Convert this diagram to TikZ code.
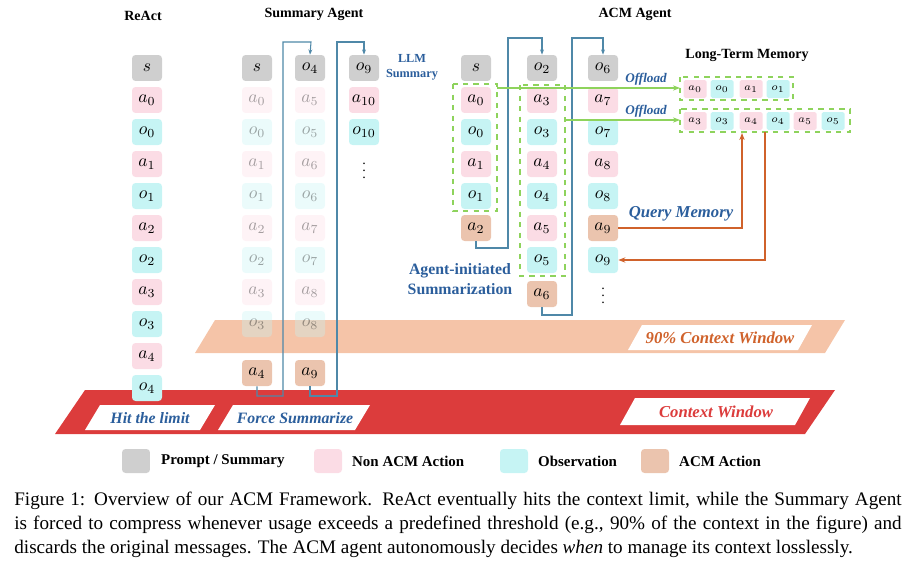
\documentclass[tikz,border=0pt]{standalone}
\usepackage{fontspec}
\setmainfont{Liberation Serif}
\usetikzlibrary{arrows.meta}
\definecolor{gr}{HTML}{CFCFCF}
\definecolor{pk}{HTML}{FBDCE5}
\definecolor{cy}{HTML}{C6F4F4}
\definecolor{br}{HTML}{EBC4AE}
\definecolor{bt}{HTML}{2B5E9C}
\definecolor{rb}{HTML}{DC3C3C}
\definecolor{pc}{HTML}{F5C4A8}
\definecolor{gn}{HTML}{8ED35C}
\definecolor{oc}{HTML}{D0622B}
\definecolor{cn}{HTML}{4F88A8}
\begin{document}
\begin{tikzpicture}[x=0.02cm,y=-0.02cm,
 bx/.style={fill=#1,rounded corners=2pt,minimum width=0.6cm,minimum height=0.52cm,inner sep=0pt,font=\fontsize{10}{10}\selectfont},
 fd/.style={bx=#1,fill opacity=0.35,text opacity=0.35},
 sm/.style={fill=#1,rounded corners=1pt,minimum width=0.46cm,minimum height=0.36cm,inner sep=0pt,font=\fontsize{6.5}{6.5}\selectfont},
 hd/.style={font=\bfseries\fontsize{8}{9}\selectfont},
 blt/.style={text=bt,font=\bfseries\itshape\fontsize{9}{10}\selectfont},
 cnl/.style={draw=cn,line width=0.6pt,-{Stealth[length=3pt]}},
 gd/.style={draw=gn,dashed,line width=0.8pt},
 gl/.style={draw=gn,line width=0.7pt,-{Stealth[length=4pt]}},
 ol/.style={draw=oc,line width=0.9pt,-{Stealth[length=4pt]}},
 vd/.style={inner sep=0pt,font=\fontsize{8}{8}\selectfont},
 lg/.style={font=\bfseries\fontsize{8.5}{9}\selectfont,anchor=west}]
\useasboundingbox (0,0) rectangle (915,578);
% bands
\fill[pc] (195,353) -- (215,320) -- (845,320) -- (825,353) -- cycle;
\fill[rb] (55,434) -- (85,390) -- (835,390) -- (805,434) -- cycle;
% headers
\node[hd] (h1) at (143,16) {ReAct};
\node[hd] (h2) at (314,14) {Summary Agent};
\node[hd] (h3) at (635,14) {ACM Agent};
\node[hd] (h4) at (747,55) {Long-Term Memory};
% ReAct
\node[bx=gr] (r0) at (147,68) {$s$};
\foreach \i/\c/\t in {1/pk/a_0,2/cy/o_0,3/pk/a_1,4/cy/o_1,5/pk/a_2,6/cy/o_2,7/pk/a_3,8/cy/o_3,9/pk/a_4,10/cy/o_4}
 \node[bx=\c] (r\i) at (147,68+32*\i) {$\t$};
% Summary agent
\node[bx=gr] (s0) at (257,68) {$s$};
\foreach \i/\c/\t in {1/pk/a_0,2/cy/o_0,3/pk/a_1,4/cy/o_1,5/pk/a_2,6/cy/o_2,7/pk/a_3,8/cy/o_3}
 \node[fd=\c] (s\i) at (257,68+32*\i) {$\t$};
\node[bx=br] (sa4) at (257,373) {$a_4$};
\node[bx=gr] (t0) at (310,68) {$o_4$};
\foreach \i/\c/\t in {1/pk/a_5,2/cy/o_5,3/pk/a_6,4/cy/o_6,5/pk/a_7,6/cy/o_7,7/pk/a_8,8/cy/o_8}
 \node[fd=\c] (t\i) at (310,68+32*\i) {$\t$};
\node[bx=br] (ta9) at (310,373) {$a_9$};
\node[bx=gr] (u0) at (364,68) {$o_9$};
\node[bx=pk] (u1) at (364,100) {$a_{10}$};
\node[bx=cy] (u2) at (364,132) {$o_{10}$};
\node[vd] (ud) at (364,166) {$\vdots$};
\node[text=bt,font=\bfseries\fontsize{7}{8.5}\selectfont,align=center] (llm) at (412,67) {LLM\\Summary};
\draw[cnl] (sa4.south) |- (283,396) |- (311,42) -- (t0.north);
\draw[cnl] (ta9.south) |- (337,396) |- (364,42) -- (u0.north);
% ACM
\node[bx=gr] (c0) at (476,68) {$s$};
\foreach \i/\c/\t in {1/pk/a_0,2/cy/o_0,3/pk/a_1,4/cy/o_1}
 \node[bx=\c] (c\i) at (476,68+32*\i) {$\t$};
\node[bx=br] (c5) at (476,228) {$a_2$};
\node[bx=gr] (d0) at (542,68) {$o_2$};
\foreach \i/\c/\t in {1/pk/a_3,2/cy/o_3,3/pk/a_4,4/cy/o_4,5/pk/a_5,6/cy/o_5}
 \node[bx=\c] (d\i) at (542,68+32*\i) {$\t$};
\node[bx=br] (d7) at (542,294) {$a_6$};
\node[bx=gr] (e0) at (603,68) {$o_6$};
\foreach \i/\c/\t in {1/pk/a_7,2/cy/o_7,3/pk/a_8,4/cy/o_8}
 \node[bx=\c] (e\i) at (603,68+32*\i) {$\t$};
\node[bx=br] (e5) at (603,228) {$a_9$};
\node[bx=cy] (e6) at (603,260) {$o_9$};
\node[vd] (ed) at (603,291) {$\vdots$};
\draw[gd] (453,84) rectangle (497,211);
\draw[gd] (520,85) rectangle (565,276);
\draw[cnl] (c5.south) |- (508,248) |- (542,38) -- (d0.north);
\draw[cnl] (d7.south) |- (572,315) |- (603,38) -- (e0.north);
\node[text=bt,font=\bfseries\fontsize{9}{11}\selectfont,align=center] (ais) at (460,279) {Agent-initiated\\Summarization};
% LTM
\draw[gd] (680,77) rectangle (793,100);
\draw[gd] (680,109) rectangle (850,132);
\foreach \x/\c/\t [count=\k] in {695/pk/a_0,722/cy/o_0,751/pk/a_1,778/cy/o_1}
 \node[sm=\c] (m\k) at (\x,89) {$\t$};
\foreach \x/\c/\t [count=\k] in {695/pk/a_3,722/cy/o_3,751/pk/a_4,778/cy/o_4,805/pk/a_5,833/cy/o_5}
 \node[sm=\c] (n\k) at (\x,121) {$\t$};
\coordinate (g1) at (497,88);
\coordinate (g2) at (565,120);
\draw[gl] (g1) -- (680,88);
\draw[gl] (g2) -- (680,120);
\node[blt,font=\bfseries\itshape\fontsize{7.5}{8}\selectfont] (of1) at (646,79) {Offload};
\node[blt,font=\bfseries\itshape\fontsize{7.5}{8}\selectfont] (of2) at (646,111) {Offload};
\draw[ol] (e5.east) -| (742,133);
\draw[ol] (765,132) |- (e6.east);
\node[blt,font=\bfseries\itshape\fontsize{9.5}{10}\selectfont] (qm) at (681,214) {Query Memory};
% band labels
\fill[white] (85,430) -- (100,405) -- (215,405) -- (200,430) -- cycle;
\fill[white] (218,430) -- (233,405) -- (370,405) -- (355,430) -- cycle;
\fill[white] (620,425) -- (635,398) -- (810,398) -- (795,425) -- cycle;
\fill[white] (628,350) -- (642,325) -- (812,325) -- (798,350) -- cycle;
\node[blt] (l1) at (150,418) {Hit the limit};
\node[blt] (l2) at (295,418) {Force Summarize};
\node[text=rb,font=\bfseries\itshape\fontsize{9.5}{10}\selectfont] (l3) at (716,412) {Context Window};
\node[text=oc,font=\bfseries\itshape\fontsize{9.5}{10}\selectfont] (l4) at (720,338) {90\% Context Window};
% legend
\node[bx=gr,minimum width=0.56cm,minimum height=0.48cm] (k1) at (136,461) {};
\node[lg] (k1t) at (155,461) {Prompt / Summary};
\node[bx=pk,minimum width=0.56cm,minimum height=0.48cm] (k2) at (328,461) {};
\node[lg] (k2t) at (346,461) {Non ACM Action};
\node[bx=cy,minimum width=0.56cm,minimum height=0.48cm] (k3) at (514,461) {};
\node[lg] (k3t) at (532,461) {Observation};
\node[bx=br,minimum width=0.56cm,minimum height=0.48cm] (k4) at (655,461) {};
\node[lg] (k4t) at (673,461) {ACM Action};
% caption
\node[anchor=north west,text width=17.75cm,align=justify,inner sep=0pt,font=\fontsize{10.9}{13.6}\selectfont] (cap) at (14,492) {Figure 1: Overview of our ACM Framework. ReAct eventually hits the context limit, while the Summary Agent is forced to compress whenever usage exceeds a predefined threshold (e.g., 90\% of the context in the figure) and discards the original messages. The ACM agent autonomously decides \emph{when} to manage its context losslessly.};
\end{tikzpicture}
\end{document}
